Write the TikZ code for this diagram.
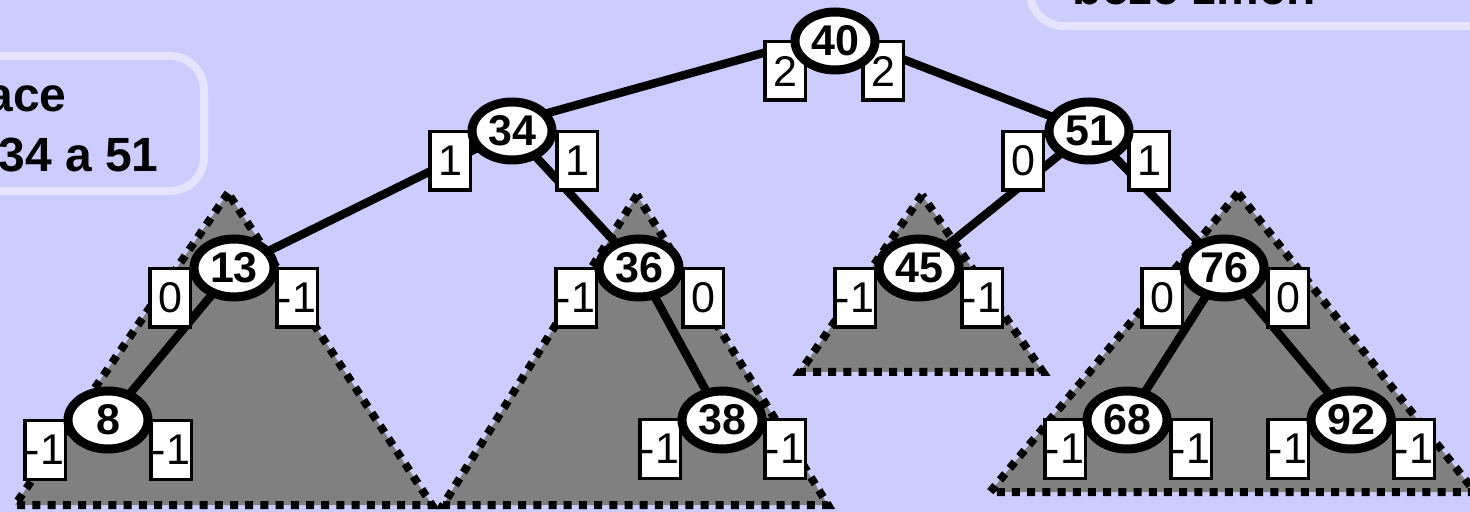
\documentclass[tikz,border=0pt]{standalone}
\usepackage{fontspec}
\setmainfont{Liberation Sans}
\usetikzlibrary{shapes.geometric}
\definecolor{bg}{HTML}{CCCCFF}
\definecolor{frame}{HTML}{E4E4FF}
\definecolor{tri}{HTML}{808080}
\begin{document}
\begin{tikzpicture}[x=0.5pt,y=-0.5pt,
  key/.style={ellipse, draw, line width=4.5pt, fill=white, minimum width=40pt, minimum height=29pt, inner sep=0pt, font=\fontsize{21.5}{21.5}\selectfont\bfseries},
  bal/.style={rectangle, draw, line width=1.8pt, fill=white, minimum width=20.3pt, minimum height=29.3pt, inner sep=0pt, font=\fontsize{21.5}{21.5}\selectfont},
  edge/.style={line width=4.2pt},
  subtree/.style={fill=tri, draw=black, line width=4pt, dash pattern=on 4pt off 3.6pt},
  note/.style={draw=frame, line width=4pt, rounded corners=17pt},
  notetext/.style={inner sep=0pt, font=\fontsize{24}{24}\selectfont\bfseries}]
\useasboundingbox (0,0) rectangle (1470,512);
\fill[bg] (0,0) rectangle (1470,512);
\clip (0,0) rectangle (1470,512);

% notes
\draw[note] (-60,56) rectangle (204,191);
\draw[note] (1030,-100) rectangle (1530,26);
\node[notetext, anchor=base east] (t1) at (67,112) {ace};
\node[notetext, anchor=base east] (t2) at (159,172) {34 a 51};
\node[notetext, anchor=base east] (t3) at (1316,5) {beze změn};

% subtrees
\draw[subtree] (228,193) -- (15,505) -- (432,505) -- cycle;
\draw[subtree] (637,195) -- (443,505) -- (828,505) -- cycle;
\draw[subtree] (922,195) -- (800,372) -- (1043,372) -- cycle;
\draw[subtree] (1238,193) -- (990,492) -- (1475,492) -- cycle;

% centres
\coordinate (c40) at (835,41);
\coordinate (c34) at (512,131);
\coordinate (c51) at (1089,131);
\coordinate (c13) at (234,268);
\coordinate (c36) at (639,268);
\coordinate (c45) at (919,268);
\coordinate (c76) at (1224,268);
\coordinate (c8) at (108,420);
\coordinate (c38) at (722,420);
\coordinate (c68) at (1127,420);
\coordinate (c92) at (1351,420);

% edges
\draw[edge] ([yshift=4]c40) -- ([yshift=4]c34);
\draw[edge] ([yshift=4]c40) -- (c51);
\draw[edge] (c34) -- (c13);
\draw[edge] (c34) -- (c36);
\draw[edge] (c13) -- (c8);
\draw[edge] (c36) -- (c38);
\draw[edge] (c51) -- (c45);
\draw[edge] (c51) -- (c76);
\draw[edge] (c76) -- (c68);
\draw[edge] (c76) -- (c92);

% balance boxes
\node[bal] (b40l) at (785,71) {2};
\node[bal] (b40r) at (883,71) {2};
\node[bal] (b34l) at (450,161) {1};
\node[bal] (b34r) at (577,161) {1};
\node[bal] (b51l) at (1023,161) {0};
\node[bal] (b51r) at (1149,161) {1};
\node[bal] (b13l) at (170,298) {0};
\node[bal] (b13r) at (297,298) {-1};
\node[bal] (b36l) at (576,298) {-1};
\node[bal] (b36r) at (703,298) {0};
\node[bal] (b45l) at (855,298) {-1};
\node[bal] (b45r) at (982,298) {-1};
\node[bal] (b76l) at (1162,298) {0};
\node[bal] (b76r) at (1288,298) {0};
\node[bal] (b8l) at (45,450) {-1};
\node[bal] (b8r) at (171,450) {-1};
\node[bal] (b38l) at (660,449) {-1};
\node[bal] (b38r) at (785,449) {-1};
\node[bal] (b68l) at (1065,449) {-1};
\node[bal] (b68r) at (1191,449) {-1};
\node[bal] (b92l) at (1288,449) {-1};
\node[bal] (b92r) at (1414,449) {-1};

% keys
\node[key] (n40) at (c40) {40};
\node[key] (n34) at (c34) {34};
\node[key] (n51) at (c51) {51};
\node[key] (n13) at (c13) {13};
\node[key] (n36) at (c36) {36};
\node[key] (n45) at (c45) {45};
\node[key] (n76) at (c76) {76};
\node[key] (n8) at (c8) {8};
\node[key] (n38) at (c38) {38};
\node[key] (n68) at (c68) {68};
\node[key] (n92) at (c92) {92};
\end{tikzpicture}
\end{document}
